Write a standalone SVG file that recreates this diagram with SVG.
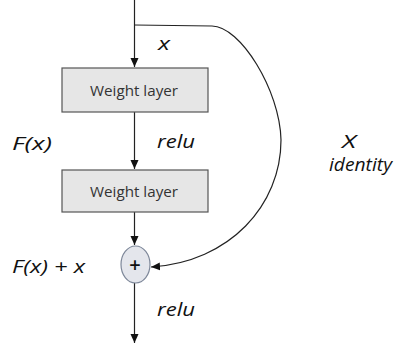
<svg xmlns="http://www.w3.org/2000/svg" width="396" height="349" viewBox="0 0 396 349">
<defs>
<marker id="ah" markerWidth="10" markerHeight="10" refX="9" refY="5" orient="auto" markerUnits="userSpaceOnUse">
<path d="M0,1 L9,5 L0,9 Z" fill="#111"/>
</marker>
<style>
.box{fill:#e6e6e6;stroke:#555;stroke-width:1.2}
.bt{font-family:"Open Sans","Liberation Sans",sans-serif;font-size:14px;fill:#333;text-anchor:middle}
.lb{font-family:"Open Sans","Liberation Sans",sans-serif;font-size:19px;font-style:italic;fill:#111}
.ln{fill:none;stroke:#222;stroke-width:1.2}
</style>
</defs>
<rect width="396" height="349" fill="#fff"/>
<g id="connectors">
<line class="ln" x1="134.5" y1="0" x2="134.5" y2="67" marker-end="url(#ah)"/>
<line class="ln" x1="134.5" y1="112" x2="134.5" y2="169" marker-end="url(#ah)"/>
<line class="ln" x1="134.5" y1="212" x2="134.5" y2="245" marker-end="url(#ah)"/>
<line class="ln" x1="134.5" y1="283" x2="134.5" y2="343" marker-end="url(#ah)"/>
<path class="ln" d="M134.5,25 L212,26 C240,26 280,90 281,140 C281,205 230,262 151,267" stroke="#333" stroke-width="1.1" marker-end="url(#ah)"/>
</g>
<g id="weight1">
<rect class="box" x="62" y="68" width="146" height="44"/>
<text class="bt" x="134" y="96" textLength="88" lengthAdjust="spacingAndGlyphs">Weight layer</text>
</g>
<g id="weight2">
<rect class="box" x="62" y="170" width="146" height="42"/>
<text class="bt" x="134" y="197" textLength="88" lengthAdjust="spacingAndGlyphs">Weight layer</text>
</g>
<g id="add">
<ellipse cx="135.5" cy="264.5" rx="14.5" ry="18.5" fill="#e4e6ec" stroke="#7d8799" stroke-width="1.2"/>
<text x="135" y="271.5" font-family="'Open Sans','Liberation Sans',sans-serif" font-size="20" font-weight="600" fill="#111" text-anchor="middle">+</text>
</g>
<g id="labels">
<text class="lb" x="158" y="50" textLength="12" lengthAdjust="spacingAndGlyphs">x</text>
<text class="lb" x="12" y="150" font-size="20" textLength="40" lengthAdjust="spacingAndGlyphs">F(x)</text>
<text class="lb" x="157" y="148" textLength="38" lengthAdjust="spacingAndGlyphs">relu</text>
<text class="lb" x="342" y="148" font-size="16" textLength="14" lengthAdjust="spacingAndGlyphs">X</text>
<text class="lb" x="329" y="171" textLength="63" lengthAdjust="spacingAndGlyphs">identity</text>
<text class="lb" x="12" y="273" font-size="20" textLength="73" lengthAdjust="spacingAndGlyphs">F(x) + x</text>
<text class="lb" x="157" y="316" textLength="38" lengthAdjust="spacingAndGlyphs">relu</text>
</g>
</svg>
